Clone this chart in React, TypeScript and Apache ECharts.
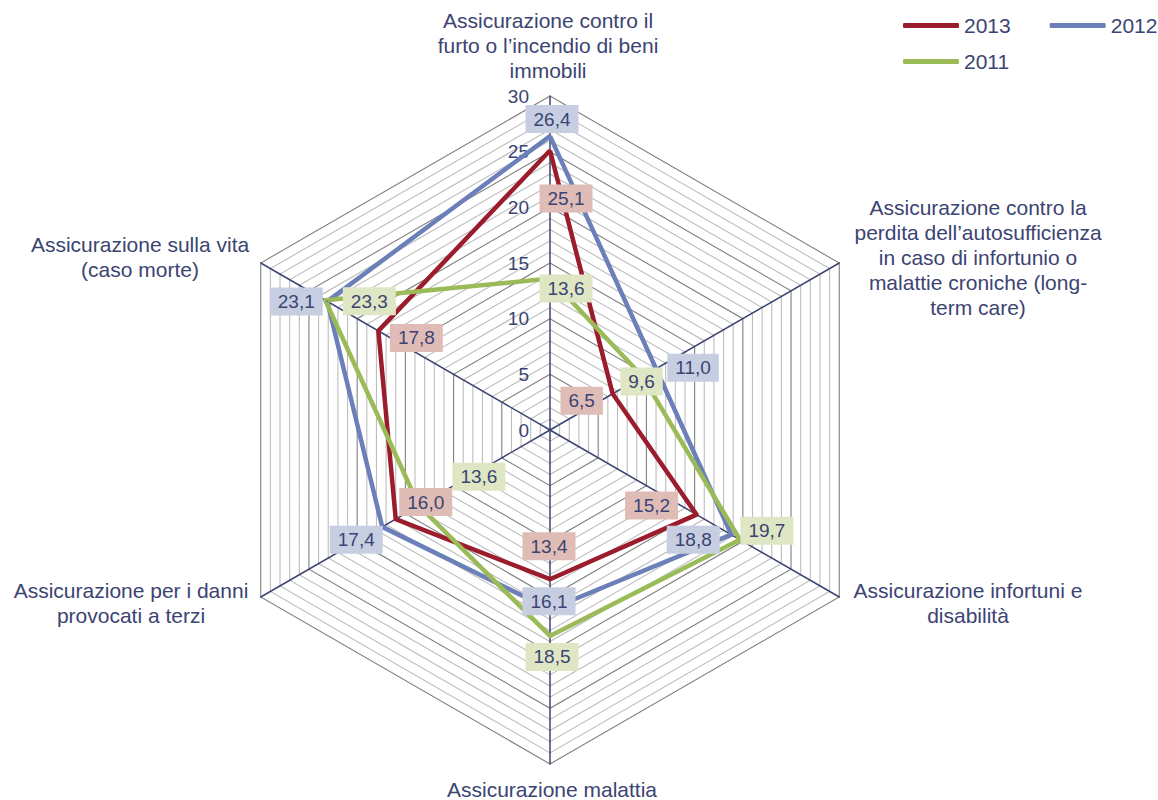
import React, { useEffect, useRef } from 'react';
import * as echarts from 'echarts';

const AXES = [
  'Assicurazione contro il furto o l’incendio di beni immobili',
  'Assicurazione sulla vita (caso morte)',
  'Assicurazione per i danni provocati a terzi',
  'Assicurazione malattia',
  'Assicurazione infortuni e disabilità',
  'Assicurazione contro la perdita dell’autosufficienza in caso di infortunio o malattie croniche (long-term care)',
];
const AXIS_LINES = [
  'Assicurazione contro il\nfurto o l’incendio di beni\nimmobili',
  'Assicurazione sulla vita\n(caso morte)',
  'Assicurazione per i danni\nprovocati a terzi',
  'Assicurazione malattia',
  'Assicurazione infortuni e\ndisabilità',
  'Assicurazione contro la\nperdita dell’autosufficienza\nin caso di infortunio o\nmalattie croniche (long-\nterm care)',
];
const YEARS = ['2013', '2012', '2011'];
const V2013 = [25.1, 17.8, 16.0, 13.4, 15.2, 6.5];
const V2012 = [26.4, 23.1, 17.4, 16.1, 18.8, 11.0];
const V2011 = [13.6, 23.3, 13.6, 18.5, 19.7, 9.6];
const SERIES = [V2013, V2012, V2011];
const AXIS_MAX = 30;
const TICK_STEP = 5;

const COLORS = ['#9b1c2c', '#6b7fb8', '#9bbb59'];
const LABEL_BG = ['#e0bcb7', '#c7cee2', '#dfe6c3'];
const TEXT = '#3b4472';
const FONT = '"Liberation Sans", Arial, sans-serif';
const CX = 550;
const CY = 430;
const R = 334;

// label offsets [dx, dy] from the point, by year and axis
const OFFSETS = [
  [[16, 48], [38, 7], [30, -17], [-1, -33], [-45, -9], [-31, 7]],
  [[2, -17], [-31, 0], [-26, 13], [-1, -8], [-38, 5], [37, -1]],
  [[16, 10], [44, 1], [60, -29], [2, 21], [27, -9], [-1, 5]],
];
// axis name positions [x center, y top]
const NAME_POS = [
  [548, 8], [140, 232], [131, 578], [552, 777], [968, 578], [978, 195],
];

const fmt = (v: number) => v.toFixed(1).replace('.', ',');

export default function App() {
  const ref = useRef<HTMLDivElement>(null);
  useEffect(() => {
    if (!ref.current) return;
    const chart = echarts.init(ref.current, null, { renderer: 'svg' });
    const option: any = {
      animation: false,
      color: COLORS,
      textStyle: { fontFamily: FONT },
      legend: [
        {
          data: [YEARS[0], YEARS[1]], left: 903, top: 15, padding: 0,
          itemWidth: 56, itemHeight: 5, itemGap: 39, icon: 'roundRect',
          textStyle: { fontSize: 21, color: TEXT, fontFamily: FONT },
        },
        {
          data: [YEARS[2]], left: 903, top: 51, padding: 0,
          itemWidth: 56, itemHeight: 5, icon: 'roundRect',
          textStyle: { fontSize: 21, color: TEXT, fontFamily: FONT },
        },
      ],
      radar: {
        center: [CX, CY],
        radius: R,
        startAngle: 90,
        shape: 'polygon',
        splitNumber: 30,
        indicator: AXES.map((n, i) => {
          const ind: any = { name: n, min: 0, max: AXIS_MAX };
          if (i === 0) {
            ind.axisLabel = {
              show: true, color: TEXT, fontSize: 19, fontFamily: FONT, margin: 21,
              formatter: (v: number) => (v % TICK_STEP === 0 ? String(v) : ''),
            };
          }
          return ind;
        }),
        axisName: { show: false },
        axisLine: { lineStyle: { color: '#3b4472', width: 1.5 } },
        axisTick: { show: false },
        axisLabel: { show: false },
        splitArea: { show: false },
        splitLine: {
          lineStyle: {
            color: ['#808080', '#bdbdbd', '#bdbdbd', '#bdbdbd', '#bdbdbd'],
            width: 1.1,
          },
        },
      },
      graphic: AXIS_LINES.map((t, i) => ({
        type: 'text',
        x: NAME_POS[i][0],
        y: NAME_POS[i][1],
        style: {
          text: t, fill: TEXT, font: `21px ${FONT}`, fontSize: 21, fontFamily: FONT,
          textAlign: 'center', textVerticalAlign: 'top', verticalAlign: 'top', lineHeight: 25,
        },
      })),
      series: [
        {
          type: 'radar',
          symbol: 'circle',
          symbolSize: 2,
          lineStyle: { width: 4.5 },
          label: {
            show: true,
            position: 'inside',
            fontSize: 19,
            color: TEXT,
            fontFamily: FONT,
            padding: [5, 8, 4, 8],
            formatter: (p: any) => {
              const v = Array.isArray(p.value) ? p.value[p.dimensionIndex] : p.value;
              return fmt(Number(v));
            },
          },
          labelLayout: (params: any) => {
            const r = params.rect;
            const cx = r.x + r.width / 2;
            const cy = r.y + r.height / 2;
            const deg = (Math.atan2(CY - cy, cx - CX) * 180) / Math.PI;
            const ai = Math.round((((deg - 90) % 360) + 720) % 360 / 60) % 6;
            let yi = SERIES.findIndex((s) => fmt(s[ai]) === params.text);
            if (yi < 0) yi = 0;
            const [ox, oy] = OFFSETS[yi][ai];
            return { x: cx + ox, y: cy + oy, align: 'center', verticalAlign: 'middle' };
          },
          data: YEARS.map((y, i) => ({
            name: y,
            value: SERIES[i],
            lineStyle: { color: COLORS[i], width: 4.5 },
            itemStyle: { color: COLORS[i] },
            label: { backgroundColor: LABEL_BG[i] },
          })),
        },
      ],
    };
    chart.setOption(option);
    return () => chart.dispose();
  }, []);
  return (
    <div
      ref={ref}
      style={{ position: 'absolute', left: 0, top: 0, width: 1158, height: 800, background: '#fff' }}
    />
  );
}
